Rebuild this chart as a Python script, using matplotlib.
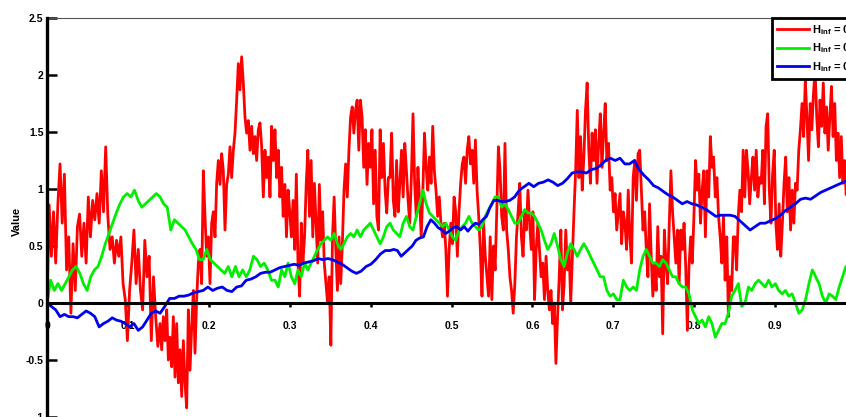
import numpy as np
import matplotlib
matplotlib.use('Agg')
import matplotlib.pyplot as plt

plt.rcParams['font.family'] = ['Liberation Sans', 'DejaVu Sans']
plt.rcParams['mathtext.fontset'] = 'custom'
plt.rcParams['mathtext.rm'] = 'Liberation Sans'
plt.rcParams['mathtext.bf'] = 'Liberation Sans:bold'

# x-range boundaries of the read-off segments (data units)
seg_bounds = [0.0, 0.1397, 0.2818, 0.4240, 0.5661, 0.7083, 0.8504, 1.0]

# Red series (roughest), read segment by segment
red_1 = [0.0, 0.86, 0.41, 0.80, 0.35, 0.87, 1.22, 0.70, 1.13, 0.29, 0.58, -0.09, 0.52, 0.11, 0.67,
         0.78, 0.41, 0.70, 0.35, 0.93, 0.58, 0.90, 0.73, 0.96, 0.70, 1.16, 0.80, 1.37, 0.76, 0.47,
         0.58, 0.35, 0.55, 0.41, 0.58, 0.17, 0.03, -0.33, 0.11, 0.35, 0.64, 0.17, 0.47, 0.11, -0.06,
         0.55, 0.23, 0.41, -0.33, 0.23, -0.12, -0.38]
red_2 = [-0.18, -0.41, -0.12, -0.33, -0.06, -0.50, -0.30, -0.56, -0.12, -0.65, -0.18, -0.70, -0.41,
         -0.82, -0.33, -0.70, -0.92, -0.06, -0.59, -0.21, 0.11, -0.44, 0.03, 0.35, 0.47, 0.17, 1.16,
         0.76, 0.41, 0.58, 0.17, 0.70, 0.80, 0.58, 1.05, 1.25, 1.04, 1.31, 1.16, 0.64, 1.04, 1.13,
         1.37, 1.10, 1.34, 1.49, 1.78, 2.10, 1.87, 2.16, 1.93, 1.63, 1.49, 1.60, 1.34, 1.55, 1.31,
         1.46, 1.25, 1.52, 1.58, 1.37, 0.93, 1.34, 1.10, 1.28, 0.93, 1.55, 1.25]
red_3 = [1.52, 1.10, 1.34, 0.93, 1.19, 0.76, 1.04, 0.58, 0.99, 0.80, 0.58, 0.90, 0.47, 1.13, 0.35,
         0.06, 0.70, 0.35, 0.58, 1.04, 1.34, 0.76, 1.25, 0.58, 1.05, 0.70, 0.35, 1.04, 0.55, 0.80,
         0.35, 0.17, 0.0, 0.23, -0.37, 0.58, 0.93, 0.47, 0.11, 0.58, 0.17, 0.52, 0.99, 1.22, 0.93,
         1.34, 1.63, 1.72, 1.49, 1.69, 1.78, 1.34, 1.78, 1.63, 1.19, 1.52, 1.04, 1.40, 1.19, 1.52,
         0.87, 1.34, 0.76, 0.64, 1.52, 1.10, 1.40, 0.99, 0.79, 1.10]
red_4 = [1.10, 1.49, 0.90, 0.76, 1.25, 0.80, 1.05, 1.34, 0.93, 1.40, 1.16, 0.90, 0.70, 1.10, 1.66,
         1.05, 0.76, 1.19, 0.90, 0.58, 0.99, 1.49, 1.19, 0.99, 1.28, 1.05, 1.55, 1.16, 0.99, 0.76,
         0.93, 0.70, 0.58, 0.70, 0.47, 0.06, 0.47, 0.70, 0.52, 0.93, 0.80, 0.41, 0.80, 1.05, 1.22,
         1.28, 1.05, 1.34, 1.46, 1.22, 1.34, 1.05, 1.43, 0.99, 0.76, 0.47, 0.06, 0.70, 0.41, 0.23,
         0.06, 0.58, 0.03, 0.50, 0.29, 0.80, 1.37, 1.16, 0.76, 0.64]
red_5 = [1.40, 0.64, 0.47, 0.23, 0.11, -0.09, 0.17, 0.58, 0.80, 1.05, 0.58, 0.41, 0.80, 0.64, 0.99,
         0.70, 0.47, 0.80, 0.03, 0.47, 0.70, 0.47, 0.23, 0.35, 0.03, 0.41, 0.11, -0.06, 0.11, -0.18,
         0.0, -0.53, -0.12, 0.23, 0.64, -0.06, 0.17, 0.64, 0.29, 0.47, 0.0, 0.41, 0.80, 1.16, 1.69,
         1.10, 1.46, 0.99, 1.28, 1.69, 1.93, 1.34, 1.05, 1.49, 1.25, 1.52, 1.05, 1.40, 1.66, 1.19,
         1.49, 1.75, 1.25, 1.40, 0.99, 1.10, 0.80, 0.96, 0.64, 0.80]
red_6 = [0.96, 0.52, 0.80, 0.70, 0.47, 0.99, 0.58, 0.35, 1.10, 1.25, 0.90, 1.31, 1.34, 0.99, 0.64,
         0.80, 0.47, 0.23, 0.87, 0.41, 0.06, 0.35, 0.11, 0.67, 0.23, 0.41, -0.27, 0.64, 0.35, 0.17,
         0.70, 1.16, 0.80, 0.58, 0.35, 0.64, 0.17, 0.64, 0.47, 0.70, 0.32, -0.24, 0.32, 0.58, 0.35,
         0.76, 1.25, 0.99, 1.13, 0.70, 0.99, 1.16, 0.58, 1.16, 0.93, 1.46, 1.19, 1.28, 0.93, 1.10,
         0.76, 0.58, 0.35, 0.76, 0.20, 0.58, -0.12, 0.23, 0.11, 0.58]
red_7 = [0.58, 0.29, 0.76, 0.99, 0.80, 1.34, 0.93, 1.34, 1.16, 0.87, 1.10, 1.28, 0.99, 1.34, 0.93,
         1.10, 1.05, 1.34, 0.87, 1.55, 1.66, 0.99, 0.70, 1.13, 1.34, 0.70, 0.47, 0.87, 0.41, 0.70,
         1.05, 1.28, 0.80, 1.10, 0.64, 0.99, 0.70, 1.05, 0.99, 1.34, 1.52, 1.75, 1.46, 1.96, 1.63,
         1.25, 1.75, 1.52, 1.84, 2.04, 1.63, 1.37, 1.78, 1.55, 1.93, 1.49, 1.72, 1.34, 1.63, 1.90,
         1.46, 1.75, 1.25, 1.49, 1.10, 1.46, 1.05, 1.25, 0.95, 1.15, 1.30, 1.00, 1.20, 1.10]

# Green series (medium roughness)
green_1 = [0.0, 0.20, 0.11, 0.17, 0.11, 0.17, 0.23, 0.29, 0.32, 0.26, 0.17, 0.11, 0.23, 0.29, 0.32,
           0.41, 0.52, 0.61, 0.70, 0.79, 0.87, 0.93, 0.96, 0.93, 0.99, 0.90, 0.84, 0.87, 0.90, 0.93, 0.96]
green_2 = [0.93, 0.87, 0.84, 0.64, 0.73, 0.70, 0.67, 0.64, 0.58, 0.52, 0.47, 0.38, 0.38, 0.47, 0.38,
           0.35, 0.32, 0.29, 0.26, 0.32, 0.23, 0.32, 0.23, 0.29, 0.23, 0.29, 0.41, 0.38, 0.32, 0.35,
           0.29, 0.20]
green_3 = [0.20, 0.14, 0.29, 0.23, 0.35, 0.23, 0.17, 0.29, 0.23, 0.35, 0.29, 0.35, 0.41, 0.47, 0.52,
           0.55, 0.58, 0.55, 0.61, 0.52, 0.47, 0.52, 0.58, 0.61, 0.58, 0.64, 0.58, 0.64, 0.67, 0.70,
           0.64, 0.58, 0.52, 0.58, 0.67]
green_4 = [0.70, 0.64, 0.61, 0.58, 0.70, 0.76, 0.67, 0.64, 0.76, 0.87, 0.99, 0.87, 0.79, 0.76, 0.73,
           0.70, 0.67, 0.70, 0.64, 0.58, 0.55, 0.64, 0.67, 0.70, 0.76, 0.70, 0.67, 0.64, 0.67, 0.76,
           0.82, 0.87, 0.93, 0.93, 0.84]
green_5 = [0.87, 0.82, 0.76, 0.70, 0.70, 0.76, 0.82, 0.79, 0.79, 0.76, 0.70, 0.64, 0.55, 0.47, 0.52,
           0.61, 0.50, 0.38, 0.32, 0.44, 0.52, 0.47, 0.41, 0.47, 0.52, 0.47, 0.41, 0.35, 0.29, 0.23,
           0.23, 0.11, 0.06, 0.08, 0.03]
green_6 = [0.03, 0.20, 0.14, 0.11, 0.14, 0.11, 0.29, 0.41, 0.47, 0.41, 0.35, 0.35, 0.32, 0.38, 0.35,
           0.29, 0.23, 0.23, 0.17, 0.14, 0.14, 0.08, -0.06, -0.12, -0.18, -0.15, -0.21, -0.12, -0.18,
           -0.30, -0.24, -0.18, -0.18, -0.09, 0.06]
green_7 = [0.11, 0.17, -0.03, 0.0, 0.14, 0.11, 0.17, 0.20, 0.17, 0.14, 0.20, 0.14, 0.17, 0.11, 0.08,
           0.11, 0.06, 0.08, 0.0, -0.09, -0.06, 0.03, 0.17, 0.29, 0.23, 0.17, 0.06, 0.0, 0.08, 0.06,
           0.03, 0.14, 0.23, 0.32, 0.28, 0.22]

# Blue series (smoothest)
blue_1 = [0.0, -0.03, -0.06, -0.12, -0.10, -0.12, -0.12, -0.13, -0.10, -0.07, -0.09, -0.12, -0.21,
          -0.18, -0.16, -0.13, -0.15, -0.16, -0.18, -0.21, -0.18, -0.24, -0.21, -0.15, -0.09, -0.07]
blue_2 = [-0.09, -0.03, 0.04, 0.04, 0.06, 0.06, 0.07, 0.09, 0.10, 0.11, 0.14, 0.11, 0.13, 0.14, 0.11,
          0.10, 0.14, 0.15, 0.20, 0.21, 0.23, 0.26, 0.27, 0.27]
blue_3 = [0.29, 0.31, 0.32, 0.33, 0.34, 0.33, 0.35, 0.36, 0.37, 0.39, 0.38, 0.39, 0.38, 0.36, 0.34,
          0.31, 0.28, 0.26, 0.28, 0.32, 0.34, 0.38, 0.43, 0.46]
blue_4 = [0.46, 0.47, 0.46, 0.41, 0.44, 0.47, 0.50, 0.55, 0.57, 0.58, 0.67, 0.73, 0.70, 0.66, 0.64,
          0.61, 0.63, 0.66, 0.67, 0.64, 0.67, 0.63, 0.67, 0.70, 0.69, 0.73, 0.76, 0.84, 0.90, 0.90, 0.89]
blue_5 = [0.89, 0.90, 0.93, 0.99, 1.02, 1.05, 1.02, 1.05, 1.06, 1.08, 1.06, 1.03, 1.05, 1.09, 1.14,
          1.15, 1.15, 1.14, 1.17, 1.18, 1.21, 1.25, 1.27, 1.25]
blue_6 = [1.27, 1.22, 1.22, 1.25, 1.17, 1.12, 1.08, 1.03, 1.01, 0.98, 0.95, 0.93, 0.90, 0.87, 0.89,
          0.87, 0.86, 0.84, 0.82, 0.79, 0.76, 0.77, 0.77, 0.77]
blue_7 = [0.76, 0.72, 0.68, 0.64, 0.67, 0.70, 0.70, 0.72, 0.74, 0.77, 0.81, 0.84, 0.87, 0.91, 0.92,
          0.91, 0.94, 0.97, 0.99, 1.01, 1.03, 1.05, 1.07, 1.08]

legend_labels = ['H$_{\\mathbf{inf}}$ = 0.2', 'H$_{\\mathbf{inf}}$ = 0.5', 'H$_{\\mathbf{inf}}$ = 0.8']
y_ticks = [-1, -0.5, 0, 0.5, 1, 1.5, 2, 2.5]
y_ticklabels = ['-1', '-0.5', '0', '0.5', '1', '1.5', '2', '2.5']
x_ticks = [0, 0.1, 0.2, 0.3, 0.4, 0.5, 0.6, 0.7, 0.8, 0.9]
x_ticklabels = ['0', '0.1', '0.2', '0.3', '0.4', '0.5', '0.6', '0.7', '0.8', '0.9']


def build(parts):
    xs = [np.linspace(seg_bounds[k], seg_bounds[k + 1], len(p), endpoint=False)
          for k, p in enumerate(parts)]
    return np.concatenate(xs), np.concatenate([np.asarray(p, float) for p in parts])


red_x, red_y = build([red_1, red_2, red_3, red_4, red_5, red_6, red_7])
green_x, green_y = build([green_1, green_2, green_3, green_4, green_5, green_6, green_7])
blue_x, blue_y = build([blue_1, blue_2, blue_3, blue_4, blue_5, blue_6, blue_7])

W, H = 846, 417
fig = plt.figure(figsize=(W / 100, H / 100), dpi=100)
left_px, right_px, top_px, bottom_px = 47, 856, 18, 417
ax = fig.add_axes([left_px / W, 1 - bottom_px / H, (right_px - left_px) / W, (bottom_px - top_px) / H])

ax.plot(red_x, red_y, color='#FF0000', lw=2.0, label=legend_labels[0], zorder=2)
ax.plot(green_x, green_y, color='#00EE00', lw=2.0, label=legend_labels[1], zorder=2.1)
ax.plot(blue_x, blue_y, color='#0000EE', lw=2.0, label=legend_labels[2], zorder=2.2)

ax.set_xlim(0, 1)
ax.set_ylim(-1, 2.5)

ax.spines['bottom'].set_position(('data', 0))
ax.spines['bottom'].set_linewidth(2.2)
ax.spines['bottom'].set_zorder(3)
ax.spines['left'].set_linewidth(2.4)
ax.spines['left'].set_zorder(3)
ax.spines['top'].set_linewidth(0.8)
ax.spines['top'].set_color('#555555')
ax.spines['right'].set_linewidth(0.8)
ax.spines['right'].set_color('#555555')

ax.set_yticks(y_ticks)
ax.set_yticklabels(y_ticklabels)
ax.set_xticks(x_ticks)
ax.set_xticklabels(x_ticklabels)
ax.tick_params(axis='y', direction='in', length=7, width=1.8, pad=2.5, labelsize=7.5)
ax.tick_params(axis='x', direction='out', length=3, width=1.8, pad=10, labelsize=7.5)
for lab in ax.get_xticklabels() + ax.get_yticklabels():
    lab.set_fontweight('bold')

ax.set_ylabel('Value', fontsize=8, fontweight='bold')
ax.yaxis.set_label_coords(-0.031, 0.49)

leg = ax.legend(loc='upper left', bbox_to_anchor=((772 - left_px) / (right_px - left_px), 1.0),
                borderaxespad=0, frameon=True, fancybox=False,
                handlelength=2.9, handletextpad=0.25, labelspacing=0.42, borderpad=0.45,
                prop={'weight': 'bold', 'size': 8})
leg.get_frame().set_edgecolor('black')
leg.get_frame().set_linewidth(2.0)
leg.get_frame().set_alpha(1)
leg.set_zorder(5)

fig.savefig('out.png', dpi=100)
